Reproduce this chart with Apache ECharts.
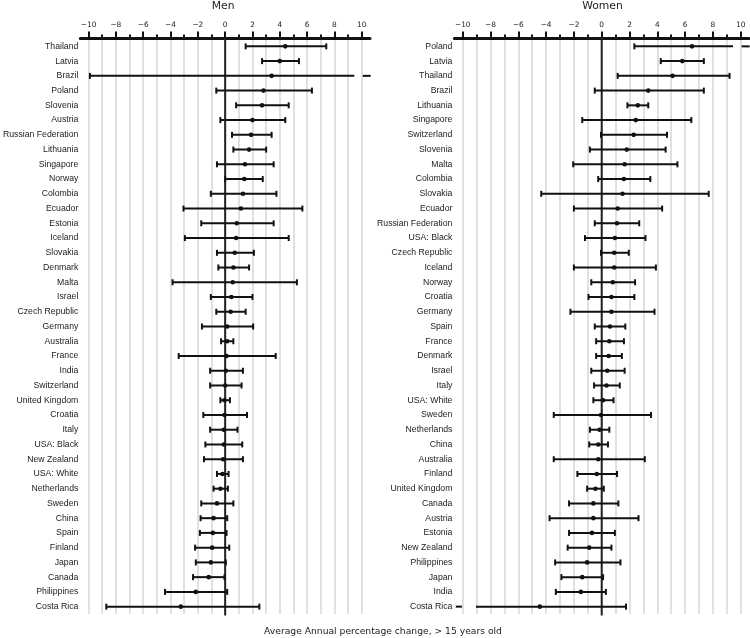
<!DOCTYPE html>
<html>
<head>
<meta charset="utf-8">
<script src="https://cdn.jsdelivr.net/npm/echarts@6/dist/echarts.min.js"></script>
<style>html,body{margin:0;padding:0;background:#fff;}#c{width:750px;height:638px;}</style>
</head>
<body>
<div id="c"></div>
<script>
const menCountries = ['Thailand','Latvia','Brazil','Poland','Slovenia','Austria','Russian Federation','Lithuania','Singapore','Norway','Colombia','Ecuador','Estonia','Iceland','Slovakia','Denmark','Malta','Israel','Czech Republic','Germany','Australia','France','India','Switzerland','United Kingdom','Croatia','Italy','USA: Black','New Zealand','USA: White','Netherlands','Sweden','China','Spain','Finland','Japan','Canada','Philippines','Costa Rica'];
const menLow  = [1.5,2.7,-9.9,-0.65,0.8,-0.35,0.5,0.6,-0.6,0.0,-1.05,-3.05,-1.75,-2.95,-0.6,-0.5,-3.85,-1.05,-0.65,-1.7,-0.3,-3.4,-1.1,-1.1,-0.35,-1.6,-1.1,-1.45,-1.55,-0.6,-0.85,-1.75,-1.8,-1.85,-2.2,-2.15,-2.35,-4.4,-8.7];
const menEst  = [4.4,4.0,3.4,2.8,2.7,2.0,1.9,1.75,1.45,1.4,1.3,1.15,0.85,0.8,0.7,0.6,0.55,0.45,0.4,0.15,0.15,0.1,0.05,0.0,-0.05,-0.05,-0.1,-0.1,-0.15,-0.2,-0.35,-0.6,-0.85,-0.9,-0.95,-1.05,-1.2,-2.15,-3.25];
const menHigh = [7.4,5.4,12,6.35,4.65,4.4,3.4,3.0,3.55,2.75,3.75,5.65,3.55,4.65,2.1,1.75,5.25,2.0,1.5,2.05,0.6,3.7,1.3,1.2,0.35,1.6,0.9,1.25,1.3,0.25,0.2,0.6,0.15,0.1,0.3,0.05,-0.05,0.15,2.5];

const womenCountries = ['Poland','Latvia','Thailand','Brazil','Lithuania','Singapore','Switzerland','Slovenia','Malta','Colombia','Slovakia','Ecuador','Russian Federation','USA: Black','Czech Republic','Iceland','Norway','Croatia','Germany','Spain','France','Denmark','Israel','Italy','USA: White','Sweden','Netherlands','China','Australia','Finland','United Kingdom','Canada','Austria','Estonia','New Zealand','Philippines','Japan','India','Costa Rica'];
const womenLow  = [2.35,4.25,1.15,-0.5,1.85,-1.4,-0.05,-0.85,-2.05,-0.25,-4.35,-2.0,-0.5,-1.2,-0.05,-2.0,-0.75,-0.95,-2.25,-0.5,-0.4,-0.4,-0.75,-0.55,-0.6,-3.45,-0.85,-0.9,-3.45,-1.75,-1.05,-2.35,-3.75,-2.35,-2.45,-3.35,-2.9,-3.3,-12];
const womenEst  = [6.5,5.8,5.1,3.35,2.6,2.45,2.3,1.8,1.65,1.6,1.5,1.15,1.1,0.95,0.9,0.9,0.8,0.7,0.7,0.6,0.55,0.5,0.4,0.35,0.1,-0.05,-0.15,-0.25,-0.25,-0.35,-0.45,-0.6,-0.6,-0.7,-0.9,-1.05,-1.4,-1.5,-4.45];
const womenHigh = [12,7.35,9.2,7.35,3.35,6.45,4.7,4.6,5.45,3.5,7.7,4.35,2.7,3.15,1.95,3.9,2.4,2.35,3.8,1.7,1.6,1.45,1.65,1.3,0.85,3.55,0.55,0.45,3.1,1.1,0.15,1.2,2.65,0.95,0.7,1.35,0.1,0.3,1.75];

const majorTicks = [-10,-8,-6,-4,-2,0,2,4,6,8,10];
const allTicks = [-10,-9,-8,-7,-6,-5,-4,-3,-2,-1,0,1,2,3,4,5,6,7,8,9,10];

const chart = echarts.init(document.getElementById('c'));
const BLACK = '#111';

function renderItem(params, api) {
  const lo = api.value(0), est = api.value(1), hi = api.value(2), idx = api.value(3);
  const y = api.coord([0, idx])[1];
  const children = [];
  const ls = {stroke: BLACK, lineWidth: 2};
  if (params.dataIndex === 0) {
    const cs = params.coordSys;
    const x0 = api.coord([0, idx])[0];
    children.push({type:'line', shape:{x1:x0, y1:cs.y - 1, x2:x0, y2:cs.y + cs.height + 1.5}, style:{stroke:'#222', lineWidth:2}});
  }
  let x1 = api.coord([lo, idx])[0];
  let x2 = api.coord([hi, idx])[0];
  let capL = true, capR = true;
  if (hi > 10) {
    x2 = api.coord([9.45, idx])[0];
    capR = false;
    const d1 = api.coord([10.07, idx])[0], d2 = api.coord([10.65, idx])[0];
    children.push({type:'line', shape:{x1:d1,y1:y,x2:d2,y2:y}, style:ls});
  }
  if (lo < -10) {
    x1 = api.coord([-9.05, idx])[0];
    capL = false;
    const d1 = api.coord([-10.5, idx])[0], d2 = api.coord([-10.05, idx])[0];
    children.push({type:'line', shape:{x1:d1,y1:y,x2:d2,y2:y}, style:ls});
  }
  children.push({type:'line', shape:{x1:x1,y1:y,x2:x2,y2:y}, style:ls});
  if (capL) children.push({type:'line', shape:{x1:x1,y1:y-3,x2:x1,y2:y+3}, style:ls});
  if (capR) children.push({type:'line', shape:{x1:x2,y1:y-3,x2:x2,y2:y+3}, style:ls});
  const xe = api.coord([est, idx])[0];
  children.push({type:'circle', shape:{cx:xe, cy:y, r:2.3}, style:{fill: BLACK}});
  return {type:'group', children: children};
}

function build(lows, ests, highs) {
  return lows.map((l, i) => [l, ests[i], highs[i], i]);
}

const grids = [
  {left: 75.4, width: 294.6, top: 39, height: 575},
  {left: 454.4, width: 294.6, top: 39, height: 575}
];

const xAxes = [];
const yAxes = [];
[0,1].forEach(g => {
  xAxes.push({
    gridIndex: g, type: 'value', position: 'top', min: -10.6, max: 10.6, offset: 1,
    axisLine: {show: true, lineStyle: {color: BLACK, width: 3}},
    axisTick: {show: true, customValues: majorTicks, length: 6.5, lineStyle: {color: BLACK, width: 2}},
    axisLabel: {show: true, customValues: majorTicks, fontSize: 7.4, fontFamily: 'DejaVu Sans', color: '#222', margin: 9,
      formatter: v => (v < 0 ? '\u2212' + (-v) : '' + v)},
    splitLine: {show: false}
  });
  xAxes.push({
    gridIndex: g, type: 'value', position: 'top', min: -10.6, max: 10.6, offset: 1,
    axisLine: {show: false},
    axisTick: {show: true, customValues: allTicks, length: 3.5, lineStyle: {color: BLACK, width: 2}},
    axisLabel: {show: false},
    splitLine: {show: true, lineStyle: {color: '#d6d6d6', width: 1.5}}
  });
  yAxes.push({
    gridIndex: g, type: 'category', inverse: true,
    data: g === 0 ? menCountries : womenCountries,
    axisLine: {show: false}, axisTick: {show: false}, splitLine: {show: false},
    axisLabel: {fontSize: 8.7, fontFamily: 'Liberation Sans', color: '#222', margin: 2}
  });
});

const option = {
  animation: false,
  backgroundColor: '#fff',
  grid: grids,
  xAxis: xAxes,
  yAxis: yAxes,
  graphic: [
    {type: 'text', x: 223.2, y: 6, style: {text: 'Men', fontSize: 10.8, fontFamily: 'DejaVu Sans', fill: '#222', textAlign: 'center', textVerticalAlign: 'middle'}},
    {type: 'text', x: 602.5, y: 6, style: {text: 'Women', fontSize: 10.8, fontFamily: 'DejaVu Sans', fill: '#222', textAlign: 'center', textVerticalAlign: 'middle'}},
    {type: 'text', x: 383, y: 632, style: {text: 'Average Annual percentage change, > 15 years old', fontSize: 9.2, fontFamily: 'DejaVu Sans', fill: '#222', textAlign: 'center', textVerticalAlign: 'middle'}}
  ],
  series: [
    {type: 'custom', xAxisIndex: 0, yAxisIndex: 0, renderItem: renderItem,
      dimensions: ['lo','est','hi','row'], encode: {x: [0,1,2], y: 3},
      data: build(menLow, menEst, menHigh), clip: false},
    {type: 'custom', xAxisIndex: 2, yAxisIndex: 1, renderItem: renderItem,
      dimensions: ['lo','est','hi','row'], encode: {x: [0,1,2], y: 3},
      data: build(womenLow, womenEst, womenHigh), clip: false}
  ]
};
chart.setOption(option);
</script>
</body>
</html>
